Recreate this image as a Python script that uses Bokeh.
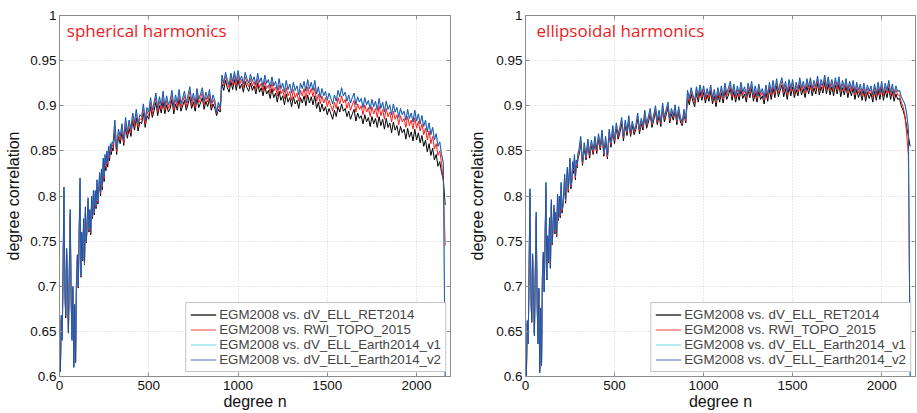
from bokeh.plotting import figure
from bokeh.models import (Range1d, FixedTicker, CustomJSTickFormatter, LinearAxis,
                          Legend, LegendItem, Label)
from bokeh.layouts import row
from bokeh.embed import file_html
from bokeh.resources import INLINE

# ---------------- data (degree correlation values, in thousandths) ----------------
# degree n: step 5 below n=300 (very noisy part), step 10 above
N = list(range(0, 300, 5)) + list(range(300, 2161, 10))

X_TICKS = [0, 500, 1000, 1500, 2000]
Y_TICKS = [0.6, 0.65, 0.7, 0.75, 0.8, 0.85, 0.9, 0.95, 1.0]

LABELS = ["EGM2008 vs. dV_ELL_RET2014", "EGM2008 vs. RWI_TOPO_2015",
          "EGM2008 vs. dV_ELL_Earth2014_v1", "EGM2008 vs. dV_ELL_Earth2014_v2"]
TITLES = ["spherical harmonics", "ellipsoidal harmonics"]

# ---- spherical harmonics (left) ----
SPH_V2 = [
    650, 605, 668, 640, 720, 810, 700, 668, 742, 700,
    648, 720, 785, 690, 640, 700, 610, 680, 615, 705,
    735, 700, 760, 820, 712, 760, 730, 775, 726, 788,
    750, 772, 798, 764, 785, 760, 800, 778, 806, 782,
    806, 790, 818, 795, 810, 826, 805, 830, 812, 842,
    822, 846, 834, 850, 838, 855, 845, 858, 852, 860,
    858, 884, 852, 874, 866, 880, 862, 887, 871, 884,
    874, 892, 881, 896, 880, 890, 888, 902, 884, 898,
    893, 909, 895, 904, 914, 897, 910, 900, 916, 899,
    911, 901, 906, 917, 899, 912, 903, 918, 902, 909,
    916, 903, 912, 921, 905, 914, 902, 919, 907, 913,
    920, 905, 915, 908, 918, 903, 912, 906, 892, 904,
    898, 934, 925, 937, 929, 923, 936, 927, 938, 926,
    939, 928, 933, 924, 937, 930, 925, 935, 927, 932,
    923, 936, 926, 931, 921, 934, 925, 929, 920, 932,
    922, 927, 917, 930, 919, 925, 915, 928, 918, 924,
    914, 926, 917, 922, 912, 925, 919, 927, 916, 929,
    919, 926, 917, 928, 913, 921, 909, 919, 911, 916,
    906, 914, 908, 902, 912, 905, 917, 910, 920, 911,
    915, 905, 912, 903, 909, 914, 901, 910, 904, 908,
    898, 909, 901, 906, 896, 907, 899, 905, 895, 908,
    897, 904, 893, 905, 896, 901, 890, 902, 893, 898,
    887, 897, 890, 894, 884, 896, 886, 892, 882, 895,
    883, 891, 880, 889, 877, 884, 871, 881, 868, 876,
    862, 869, 855, 860, 846, 837, 600]
SPH_V1 = SPH_V2  # v1 and v2 cannot be told apart in the figure
SPH_RET = [
    648, 610, 662, 642, 712, 800, 695, 665, 735, 698,
    650, 714, 775, 688, 645, 696, 615, 676, 618, 700,
    728, 698, 752, 808, 710, 755, 728, 768, 724, 780,
    748, 768, 790, 760, 780, 757, 794, 775, 798, 779,
    798, 786, 810, 791, 805, 818, 800, 822, 807, 834,
    816, 838, 828, 843, 832, 848, 839, 851, 846, 853,
    850, 872, 846, 866, 858, 871, 856, 877, 864, 875,
    866, 884, 873, 887, 872, 882, 880, 892, 876, 889,
    885, 899, 887, 895, 904, 889, 900, 892, 905, 891,
    901, 893, 897, 907, 891, 902, 895, 908, 894, 900,
    906, 895, 902, 910, 897, 904, 894, 909, 898, 903,
    909, 896, 905, 899, 908, 895, 902, 897, 889, 896,
    893, 924, 917, 928, 920, 915, 927, 918, 929, 917,
    929, 919, 924, 915, 927, 920, 916, 925, 917, 922,
    913, 925, 915, 920, 911, 922, 913, 917, 908, 919,
    909, 914, 904, 916, 906, 911, 901, 913, 904, 909,
    899, 910, 902, 906, 897, 909, 903, 911, 900, 912,
    903, 910, 901, 911, 897, 904, 893, 902, 894, 899,
    890, 897, 891, 885, 895, 888, 899, 893, 902, 894,
    897, 888, 894, 885, 891, 896, 883, 892, 886, 889,
    880, 890, 882, 887, 877, 888, 880, 886, 876, 888,
    878, 885, 874, 886, 876, 881, 870, 882, 873, 878,
    867, 877, 870, 874, 863, 875, 865, 871, 861, 874,
    862, 870, 859, 867, 855, 862, 849, 858, 845, 853,
    840, 846, 833, 838, 826, 818, 790]
SPH_RWI = [
    649, 608, 665, 641, 716, 805, 698, 667, 738, 699,
    649, 717, 780, 689, 643, 698, 612, 678, 616, 703,
    732, 699, 756, 814, 711, 758, 729, 772, 725, 784,
    749, 770, 794, 762, 783, 759, 797, 777, 802, 781,
    802, 788, 814, 793, 808, 822, 803, 826, 810, 838,
    819, 842, 831, 847, 835, 852, 842, 855, 849, 857,
    854, 878, 849, 870, 862, 876, 859, 882, 868, 880,
    870, 888, 877, 892, 876, 886, 884, 897, 880, 894,
    889, 904, 891, 900, 909, 893, 905, 896, 911, 895,
    906, 897, 902, 912, 895, 907, 899, 913, 898, 905,
    911, 899, 907, 916, 901, 909, 898, 914, 903, 908,
    915, 901, 910, 904, 913, 899, 907, 902, 891, 900,
    896, 930, 922, 933, 926, 920, 932, 923, 934, 922,
    935, 924, 929, 920, 932, 926, 921, 930, 922, 927,
    918, 930, 920, 925, 916, 928, 919, 923, 914, 926,
    916, 921, 911, 923, 913, 918, 908, 920, 911, 916,
    906, 918, 909, 914, 905, 917, 911, 919, 908, 921,
    912, 919, 910, 920, 905, 913, 902, 911, 903, 909,
    899, 906, 900, 894, 904, 897, 909, 902, 911, 903,
    907, 897, 904, 895, 901, 906, 893, 902, 896, 900,
    890, 901, 893, 898, 888, 899, 891, 897, 887, 900,
    889, 896, 885, 897, 888, 893, 882, 894, 885, 890,
    879, 889, 882, 886, 876, 888, 878, 884, 874, 887,
    875, 883, 872, 880, 868, 875, 862, 872, 858, 866,
    852, 858, 845, 850, 836, 815, 745]

# ---- ellipsoidal harmonics (right) ----
ELL_V2 = [
    645, 600, 662, 636, 716, 808, 698, 662, 736, 690,
    645, 716, 782, 688, 636, 698, 604, 676, 612, 712,
    738, 694, 755, 815, 708, 756, 728, 776, 720, 796,
    748, 770, 790, 762, 782, 758, 802, 776, 800, 780,
    815, 786, 792, 806, 824, 796, 818, 832, 808, 826,
    842, 812, 820, 838, 830, 846, 822, 840, 836, 848,
    851, 866, 838, 859, 844, 863, 847, 862, 851, 866,
    852, 869, 856, 873, 848, 866, 845, 874, 859, 878,
    863, 881, 868, 876, 887, 866, 884, 872, 889, 871,
    883, 873, 879, 892, 874, 886, 878, 895, 880, 888,
    897, 881, 890, 900, 884, 895, 882, 903, 887, 896,
    904, 886, 897, 889, 901, 884, 899, 887, 882, 896,
    885, 917, 908, 920, 912, 906, 921, 911, 923, 913,
    922, 910, 919, 912, 923, 909, 918, 906, 920, 911,
    922, 910, 925, 914, 920, 927, 913, 924, 911, 922,
    913, 926, 915, 921, 911, 925, 916, 927, 912, 922,
    911, 924, 914, 919, 909, 923, 912, 926, 915, 928,
    916, 930, 917, 925, 931, 918, 927, 915, 929, 919,
    929, 916, 926, 918, 931, 920, 927, 917, 930, 921,
    931, 919, 928, 921, 933, 920, 929, 922, 934, 921,
    932, 920, 929, 919, 931, 921, 932, 918, 928, 920,
    930, 917, 927, 919, 928, 915, 926, 917, 924, 914,
    925, 913, 923, 916, 922, 912, 924, 914, 926, 915,
    927, 914, 925, 917, 928, 915, 924, 913, 922, 916,
    917, 910, 906, 902, 892, 874, 600]
ELL_V1 = ELL_V2  # v1 and v2 cannot be told apart in the figure
ELL_RET = [
    640, 604, 658, 638, 710, 798, 694, 660, 730, 688,
    648, 712, 772, 686, 640, 695, 608, 672, 614, 706,
    732, 694, 750, 805, 707, 752, 726, 770, 720, 788,
    746, 766, 784, 758, 778, 755, 796, 773, 794, 776,
    808, 781, 788, 800, 817, 792, 812, 826, 804, 820,
    836, 808, 815, 832, 825, 840, 818, 835, 831, 842,
    845, 859, 834, 853, 840, 857, 842, 856, 846, 860,
    847, 863, 851, 867, 844, 860, 841, 868, 854, 872,
    858, 875, 863, 870, 881, 861, 878, 867, 883, 866,
    878, 868, 874, 886, 869, 880, 873, 889, 875, 882,
    891, 876, 884, 894, 879, 889, 877, 897, 882, 890,
    898, 881, 891, 884, 895, 879, 893, 882, 878, 891,
    881, 909, 901, 913, 905, 899, 914, 904, 916, 906,
    915, 903, 912, 905, 916, 902, 911, 899, 913, 904,
    914, 903, 917, 907, 912, 919, 906, 916, 904, 914,
    906, 918, 908, 913, 904, 917, 909, 919, 905, 914,
    904, 916, 907, 911, 902, 915, 905, 918, 907, 920,
    909, 922, 910, 917, 923, 910, 919, 907, 921, 911,
    921, 909, 918, 911, 923, 912, 919, 909, 922, 913,
    923, 911, 920, 913, 925, 912, 921, 914, 926, 913,
    924, 912, 921, 911, 923, 913, 924, 910, 920, 912,
    922, 909, 919, 911, 920, 907, 918, 909, 916, 906,
    917, 905, 915, 908, 914, 904, 916, 906, 918, 907,
    919, 906, 917, 909, 920, 907, 916, 905, 913, 907,
    908, 900, 895, 888, 877, 866, 855]
ELL_RWI = [
    642, 602, 660, 637, 713, 803, 696, 661, 733, 689,
    646, 714, 777, 687, 638, 696, 606, 674, 613, 709,
    735, 694, 752, 810, 708, 754, 727, 773, 720, 792,
    747, 768, 787, 760, 780, 756, 799, 775, 797, 778,
    812, 783, 790, 803, 820, 794, 815, 829, 806, 823,
    839, 810, 818, 835, 828, 843, 820, 838, 833, 845,
    848, 862, 836, 856, 842, 860, 845, 859, 848, 863,
    850, 866, 853, 870, 846, 863, 843, 871, 857, 875,
    861, 878, 866, 873, 884, 864, 881, 870, 886, 869,
    881, 871, 877, 889, 872, 883, 876, 892, 878, 885,
    894, 879, 887, 897, 882, 892, 880, 900, 885, 893,
    901, 884, 894, 887, 898, 882, 896, 885, 880, 893,
    883, 913, 905, 916, 909, 903, 918, 908, 920, 910,
    919, 907, 916, 909, 920, 906, 915, 903, 917, 908,
    918, 907, 921, 911, 916, 923, 910, 920, 908, 918,
    910, 922, 912, 917, 908, 921, 913, 923, 909, 918,
    908, 920, 911, 915, 906, 919, 909, 922, 912, 924,
    913, 926, 914, 921, 927, 915, 923, 912, 925, 916,
    925, 913, 922, 915, 927, 917, 923, 914, 926, 918,
    927, 916, 924, 918, 929, 917, 925, 919, 930, 918,
    928, 917, 925, 916, 927, 918, 928, 915, 924, 917,
    926, 914, 923, 916, 924, 912, 922, 914, 920, 911,
    921, 910, 919, 913, 918, 909, 920, 911, 922, 912,
    923, 911, 921, 914, 924, 912, 920, 910, 918, 912,
    912, 904, 899, 890, 870, 845, 620]

# ---------------- styling ----------------
AX_COL = "#8c8c8c"
LINE_COLORS = ["#000000", "#ff1a1a", "#66e0ee", "#1f45a3"]
LEGEND_COLORS = ["#666666", "#f4a3a3", "#b5eef2", "#a9b3e2"]
FONT = "Liberation Sans"
NAN = float("nan")


def make_panel(title, ret, rwi, v1, v2, width, bl, br, title_x, ylabel_standoff):
    p = figure(width=width, height=413, x_range=Range1d(0, 2190), y_range=Range1d(0.6, 1.0),
               output_backend="svg", toolbar_location=None,
               min_border_left=bl, min_border_right=br, min_border_top=15, min_border_bottom=37)
    p.outline_line_color = AX_COL
    p.background_fill_color = "white"
    p.border_fill_color = "white"

    for series, color, alpha in ((ret, LINE_COLORS[0], 1.0), (rwi, LINE_COLORS[1], 1.0),
                                 (v1, LINE_COLORS[2], 1.0), (v2, LINE_COLORS[3], 0.9)):
        p.line(N, [v / 1000 for v in series], color=color, line_width=1, line_alpha=alpha)

    p.xaxis.ticker = FixedTicker(ticks=X_TICKS)
    p.yaxis.ticker = FixedTicker(ticks=Y_TICKS)
    p.yaxis.formatter = CustomJSTickFormatter(code="return String(Math.round(tick*100)/100);")
    p.xgrid.ticker = FixedTicker(ticks=X_TICKS)
    p.ygrid.ticker = FixedTicker(ticks=Y_TICKS)
    for g in (p.xgrid[0], p.ygrid[0]):
        g.grid_line_color = "#d2d2d2"
        g.grid_line_dash = "1 2"
        g.grid_line_width = 1

    for ax in (p.xaxis[0], p.yaxis[0]):
        ax.axis_line_color = AX_COL
        ax.major_tick_line_color = AX_COL
        ax.major_tick_in = 4
        ax.major_tick_out = 0
        ax.minor_tick_line_color = None
        ax.major_label_text_font = FONT
        ax.major_label_text_font_size = "13.5px"
        ax.major_label_text_color = "#111111"
        ax.axis_label_text_font = FONT
        ax.axis_label_text_font_size = "16px"
        ax.axis_label_text_font_style = "normal"
        ax.axis_label_text_color = "#111111"
    p.xaxis.major_label_standoff = 4
    p.xaxis.axis_label_standoff = 0
    p.yaxis.major_label_standoff = 3
    p.yaxis.axis_label_standoff = ylabel_standoff
    p.xaxis.axis_label = "degree n"
    p.yaxis.axis_label = "degree correlation"

    for loc, ticks in (("right", Y_TICKS), ("above", X_TICKS)):
        ax = LinearAxis(ticker=FixedTicker(ticks=ticks),
                        formatter=CustomJSTickFormatter(code="return '';"),
                        major_label_text_font_size="1px", major_label_text_color=None,
                        major_tick_in=4, major_tick_out=0, minor_tick_line_color=None,
                        axis_line_color=AX_COL, major_tick_line_color=AX_COL,
                        major_label_standoff=0)
        p.add_layout(ax, loc)

    p.add_layout(Label(x=title_x, y=0.9834, text=title, text_color="#ec1c24",
                       text_font="Open Sans", text_font_size="17px", text_baseline="middle"))

    dummies = [p.line([NAN], [NAN], color=c, line_width=2) for c in LEGEND_COLORS]
    legend = Legend(items=[LegendItem(label=l, renderers=[r]) for l, r in zip(LABELS, dummies)],
                    location="bottom_right", margin=4, padding=4, spacing=0,
                    glyph_width=26, glyph_height=15, label_height=15, label_standoff=3,
                    label_text_font=FONT, label_text_font_size="13.3px",
                    border_line_color=AX_COL, border_line_width=1,
                    background_fill_color="white", background_fill_alpha=1.0)
    p.add_layout(legend)
    return p


p1 = make_panel(TITLES[0], SPH_RET, SPH_RWI, SPH_V1, SPH_V2, 457, 59, 7, 41, 5)
p2 = make_panel(TITLES[1], ELL_RET, ELL_RWI, ELL_V1, ELL_V2, 460, 68, 2, 62, 7)
layout = row(p1, p2)

open("out.html", "w").write(file_html(layout, INLINE))
